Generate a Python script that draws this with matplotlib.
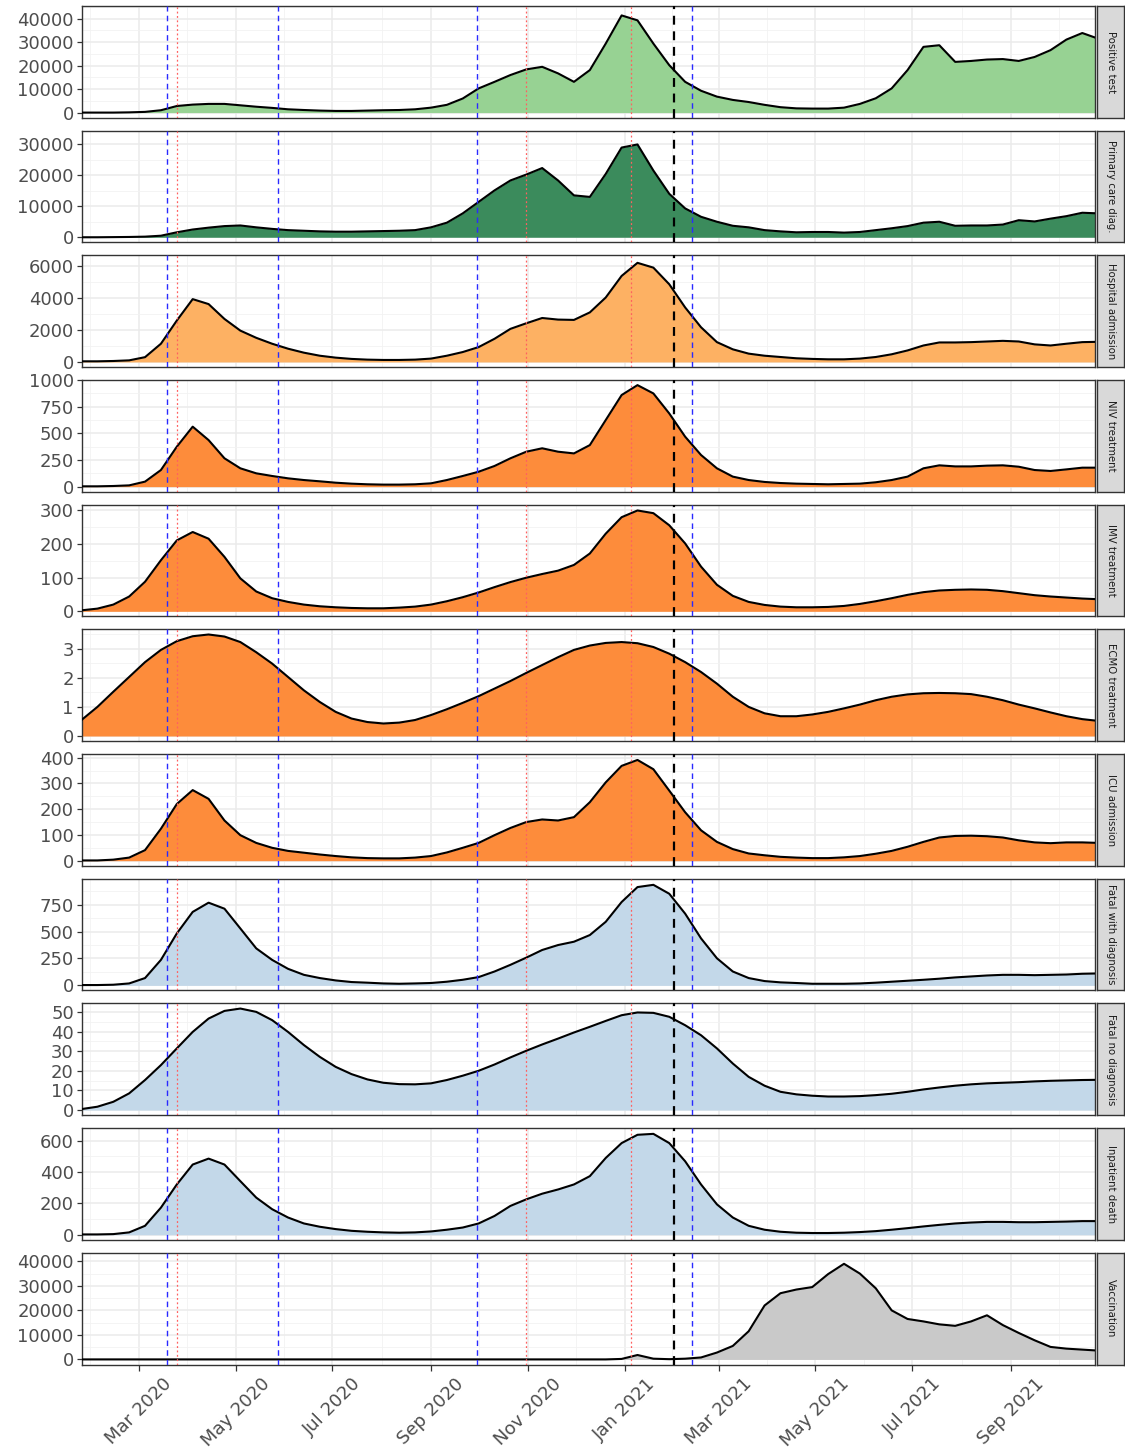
import matplotlib
matplotlib.use("Agg")
import matplotlib.pyplot as plt
import matplotlib.dates as mdates
import numpy as np
import pandas as pd


# 10-day grid the curves were read on
dates = pd.date_range("2020-01-25", periods=65, freq="10D")

positive_test = [0, 0, 0, 100, 300, 1000, 2800, 3400, 3700, 3700,
                 3100, 2500, 2000, 1400, 1100, 850, 700, 700, 850, 1000,
                 1100, 1400, 2100, 3300, 6000, 10300, 13100, 16000, 18400, 19500,
                 16700, 13100, 18100, 29400, 41400, 39300, 29400, 20200, 13100, 9300,
                 6800, 5400, 4500, 3300, 2300, 1800, 1700, 1700, 2100, 3700,
                 6100, 10300, 18100, 28000, 28700, 21600, 22000, 22600, 22800, 22000,
                 23700, 26600, 31100, 33900, 31500]
primary_care = [0, 0, 50, 100, 200, 500, 1600, 2500, 3100, 3600,
                3800, 3200, 2700, 2300, 2100, 1900, 1800, 1800, 1900, 2000,
                2100, 2300, 3200, 4700, 7700, 11400, 15100, 18300, 20200, 22300,
                18300, 13500, 13000, 20400, 28900, 29900, 21500, 14000, 9300, 6600,
                5000, 3700, 3200, 2300, 1900, 1600, 1700, 1700, 1500, 1700,
                2300, 2900, 3600, 4700, 5000, 3700, 3800, 3800, 4100, 5500,
                5100, 6000, 6800, 7900, 7700]
hospital = [40, 40, 60, 100, 300, 1140, 2590, 3930, 3620, 2690,
            1960, 1510, 1140, 830, 580, 390, 270, 190, 145, 125,
            125, 145, 210, 390, 620, 930, 1450, 2070, 2420, 2750,
            2650, 2630, 3100, 4030, 5380, 6200, 5900, 4860, 3410, 2170,
            1240, 790, 520, 390, 310, 230, 190, 165, 165, 210,
            310, 480, 720, 1030, 1220, 1220, 1240, 1280, 1320, 1280,
            1100, 1030, 1140, 1240, 1260]
niv = [3, 3, 6, 12, 47, 156, 375, 563, 437, 266,
       172, 125, 100, 78, 62, 50, 37, 28, 22, 19,
       19, 22, 31, 62, 100, 140, 194, 266, 328, 360,
       328, 312, 390, 625, 860, 953, 875, 687, 469, 297,
       172, 94, 62, 44, 34, 28, 25, 22, 25, 28,
       41, 62, 94, 172, 200, 190, 190, 197, 200, 187,
       156, 147, 162, 178, 178]
imv = [3, 8, 20, 44, 88, 152, 211, 236, 216, 162,
       98, 59, 39, 28, 20, 15, 12, 10, 9, 9,
       11, 14, 20, 30, 42, 56, 72, 87, 100, 111,
       121, 138, 172, 231, 280, 300, 292, 256, 202, 133,
       79, 46, 28, 19, 14, 12, 12, 13, 16, 22,
       30, 39, 49, 57, 62, 64, 65, 64, 60, 54,
       48, 44, 41, 38, 36]
ecmo = [0.55, 1.0, 1.52, 2.03, 2.54, 2.96, 3.26, 3.43, 3.49, 3.42,
        3.23, 2.88, 2.49, 2.03, 1.57, 1.17, 0.83, 0.60, 0.48, 0.43,
        0.46, 0.55, 0.72, 0.92, 1.14, 1.37, 1.63, 1.89, 2.17, 2.44,
        2.71, 2.96, 3.11, 3.20, 3.23, 3.19, 3.06, 2.83, 2.54, 2.20,
        1.80, 1.35, 1.0, 0.78, 0.68, 0.68, 0.74, 0.83, 0.95, 1.08,
        1.23, 1.35, 1.43, 1.47, 1.48, 1.47, 1.44, 1.35, 1.23, 1.08,
        0.95, 0.81, 0.68, 0.58, 0.52]
icu = [1, 1, 4, 12, 41, 124, 220, 274, 240, 156,
       99, 69, 50, 38, 31, 24, 18, 13, 10, 9,
       9, 12, 18, 32, 50, 69, 99, 127, 150, 160,
       156, 169, 227, 304, 368, 391, 355, 272, 188, 118,
       73, 45, 28, 21, 15, 12, 10, 10, 13, 18,
       27, 38, 54, 73, 90, 96, 97, 95, 90, 79,
       71, 68, 71, 71, 69]
fatal_dx = [3, 3, 6, 18, 68, 237, 483, 683, 769, 713,
            529, 344, 237, 154, 98, 68, 46, 31, 25, 18,
            15, 18, 22, 34, 52, 77, 129, 191, 258, 329,
            375, 406, 468, 591, 775, 914, 935, 852, 667, 437,
            252, 129, 68, 40, 28, 22, 15, 15, 15, 18,
            25, 34, 43, 52, 62, 74, 83, 92, 98, 98,
            95, 98, 101, 108, 111]
fatal_nodx = [0.5, 1.7, 4.2, 8.5, 15.3, 22.9, 31.4, 39.8, 46.6, 50.5,
              51.7, 50.0, 45.8, 39.8, 33.1, 27.1, 22.0, 18.3, 15.6, 13.9,
              13.2, 13.1, 13.6, 15.3, 17.5, 20.0, 23.2, 26.8, 30.2, 33.4,
              36.4, 39.5, 42.4, 45.4, 48.3, 49.7, 49.5, 47.5, 43.2, 38.1,
              31.4, 23.7, 16.9, 12.4, 9.3, 8.0, 7.3, 6.9, 6.9, 7.1,
              7.6, 8.3, 9.3, 10.5, 11.5, 12.4, 13.1, 13.6, 13.9, 14.2,
              14.6, 14.9, 15.1, 15.3, 15.4]
inpatient = [2, 2, 4, 15, 57, 173, 321, 448, 486, 448,
             342, 237, 163, 110, 72, 51, 36, 25, 19, 15,
             13, 15, 21, 32, 46, 72, 120, 184, 226, 262,
             289, 321, 374, 490, 585, 638, 644, 585, 469, 321,
             194, 110, 57, 32, 19, 13, 11, 11, 13, 17,
             23, 32, 42, 53, 63, 72, 78, 82, 82, 80,
             80, 82, 84, 87, 87]
vaccination = [0, 0, 0, 0, 0, 0, 0, 0, 0, 0,
               0, 0, 0, 0, 0, 0, 0, 0, 0, 0,
               0, 0, 0, 0, 0, 0, 0, 0, 0, 0,
               0, 0, 0, 0, 200, 1800, 300, 100, 300, 800,
               2800, 5500, 11500, 22000, 27000, 28500, 29500, 34800, 39000, 35000,
               29000, 20000, 16500, 15500, 14300, 13700, 15500, 18000, 14000, 10800,
               7800, 5100, 4400, 4000, 3600]

panel_names = ["Positive test", "Primary care diag.", "Hospital admission",
               "NIV treatment", "IMV treatment", "ECMO treatment", "ICU admission",
               "Fatal with diagnosis", "Fatal no diagnosis", "Inpatient death",
               "Vaccination"]
series = [positive_test, primary_care, hospital, niv, imv, ecmo, icu,
          fatal_dx, fatal_nodx, inpatient, vaccination]
# highest point of each curve (drives the y range)
peak_values = [43250, 32700, 6350, 953, 302, 3.49, 394, 944, 51.7, 648, 41400]
y_ticks = [[0, 10000, 20000, 30000, 40000],
           [0, 10000, 20000, 30000],
           [0, 2000, 4000, 6000],
           [0, 250, 500, 750, 1000],
           [0, 100, 200, 300],
           [0, 1, 2, 3],
           [0, 100, 200, 300, 400],
           [0, 250, 500, 750],
           [0, 10, 20, 30, 40, 50],
           [0, 200, 400, 600],
           [0, 10000, 20000, 30000, 40000]]

x_tick_dates = ["2020-03-01", "2020-05-01", "2020-07-01", "2020-09-01",
                "2020-11-01", "2021-01-01", "2021-03-01", "2021-05-01",
                "2021-07-01", "2021-09-01"]
x_tick_labels = ["Mar 2020", "May 2020", "Jul 2020", "Sep 2020", "Nov 2020",
                 "Jan 2021", "Mar 2021", "May 2021", "Jul 2021", "Sep 2021"]

blue_lines = ["2020-03-19", "2020-05-28", "2020-09-30", "2021-02-12"]
red_lines = ["2020-03-25", "2020-10-31", "2021-01-05"]
black_lines = ["2021-02-01"]

green_light = "#97d293"
green_dark = "#3b8b5c"
orange_light = "#fdb163"
orange = "#fd8c3b"
blue_light = "#c3d8e9"
grey = "#c9c9c9"
fills = [green_light, green_dark, orange_light, orange, orange, orange, orange,
         blue_light, blue_light, blue_light, grey]

plt.rcParams["font.family"] = ["DejaVu Sans"]

W, H = 1125, 1453
fig, axes = plt.subplots(11, 1, figsize=(W / 100, H / 100), dpi=100, sharex=True)
fig.subplots_adjust(left=81.5 / W, right=1095 / W, top=1 - 6 / H,
                    bottom=1 - 1364.5 / H, hspace=0.1166)

xmaj = mdates.date2num(pd.to_datetime(x_tick_dates))
step = xmaj[1] - xmaj[0]
xminor = np.concatenate([[xmaj[0] - step / 2], (xmaj[:-1] + xmaj[1:]) / 2,
                         [xmaj[-1] + step / 2]])

for i, ax in enumerate(axes):
    vals = np.array(series[i], dtype=float)
    ax.fill_between(dates, vals, 0, color=fills[i], lw=0, zorder=2)
    ax.plot(dates, vals, color="black", lw=1.5, zorder=3)

    ticks = y_ticks[i]
    ax.set_yticks(ticks)
    ax.set_yticklabels([f"{t:g}" for t in ticks])
    ax.set_yticks([(a + b) / 2 for a, b in zip(ticks[:-1], ticks[1:])] +
                  [ticks[-1] + (ticks[1] - ticks[0]) / 2], minor=True)
    ax.set_xticks(xminor, minor=True)
    top = peak_values[i]
    ax.set_ylim(-0.05 * top, 1.05 * top)

    ax.grid(which="major", color="#ebebeb", lw=1.1, zorder=0)
    ax.grid(which="minor", color="#f2f2f2", lw=0.6, zorder=0)
    ax.set_axisbelow(True)

    for d in blue_lines:
        ax.axvline(pd.Timestamp(d), color="#2a2aff", lw=1.0, ls=(0, (4, 3)), zorder=4)
    for d in red_lines:
        ax.axvline(pd.Timestamp(d), color="#ff6060", lw=0.9, ls=(0, (1.5, 2)), zorder=4)
    for d in black_lines:
        ax.axvline(pd.Timestamp(d), color="black", lw=1.6, ls=(0, (4, 3)), zorder=4)

    for s in ax.spines.values():
        s.set_color("#333333")
        s.set_linewidth(1.0)
    ax.tick_params(axis="y", which="major", length=3.5, width=0.9, color="#333333",
                   labelsize=13, labelcolor="#4d4d4d", pad=2)
    ax.tick_params(axis="both", which="minor", length=0)
    ax.tick_params(axis="x", which="major", length=4, width=0.9, color="#333333",
                   labelsize=13, labelcolor="#4d4d4d")

    # facet strip on the right
    pos = ax.get_position()
    sax = fig.add_axes([pos.x1 + 2 / W, pos.y0, 27 / W, pos.height])
    sax.set_facecolor("#d9d9d9")
    sax.set_xticks([])
    sax.set_yticks([])
    for s in sax.spines.values():
        s.set_color("#333333")
        s.set_linewidth(1.0)
    sax.text(0.5, 0.5, panel_names[i], rotation=270, ha="center", va="center",
             fontsize=7.3, color="#1a1a1a", transform=sax.transAxes)

axes[-1].set_xlim(pd.Timestamp("2020-01-25"), pd.Timestamp("2021-10-24"))
axes[-1].set_xticks(xmaj)
axes[-1].set_xticklabels(x_tick_labels, rotation=45, ha="center", va="top")
for ax in axes[:-1]:
    ax.tick_params(axis="x", which="major", length=0, labelbottom=False)

fig.savefig("out.png", dpi=100)
